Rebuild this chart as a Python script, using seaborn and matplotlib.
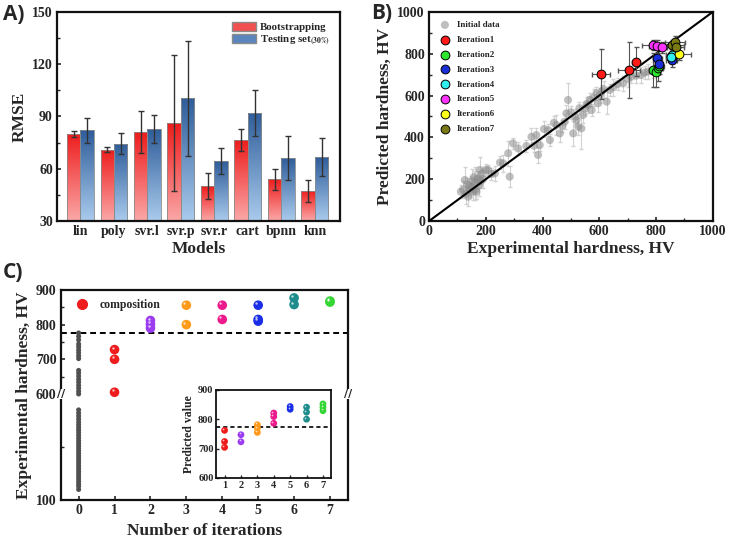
import numpy as np
import pandas as pd
import matplotlib
matplotlib.use('Agg')
import matplotlib.pyplot as plt
import seaborn as sns
from matplotlib.colors import LinearSegmentedColormap
from matplotlib.lines import Line2D
from matplotlib.patches import Patch
from matplotlib.ticker import AutoMinorLocator, FixedLocator
from matplotlib.transforms import offset_copy, blended_transform_factory

# ---------------- panel A data (RMSE of models)
models = ['lin', 'poly', 'svr.l', 'svr.p', 'svr.r', 'cart', 'bpnn', 'knn']
boot_rmse = [80, 71, 81, 86, 50, 76.5, 54, 47.3]
boot_err = [1.5, 1.3, 12, 39, 7.5, 6.5, 6, 6.3]
test_rmse = [82, 74.4, 82.8, 100.5, 64.2, 92, 66.3, 66.7]
test_err = [7, 6, 8, 33, 7.5, 13, 12.7, 11]

# ---------------- panel B data (predicted vs experimental)
init_exp = [112, 120, 126, 130, 135, 138, 142, 145, 149, 152, 155, 158, 161, 164, 167,
            170, 173, 176, 179, 182, 186, 190, 200, 208, 220, 232, 250, 261, 279, 284,
            296, 314, 343, 361, 370, 378, 384, 390, 405, 420, 426, 440, 449, 461, 470,
            478, 484, 490, 500, 508, 515, 520, 526, 530, 537, 543, 549, 555, 561, 567,
            573, 580, 590, 596, 602, 608, 615, 626, 637, 650, 665, 684, 700, 713, 730,
            748, 760, 771, 789]
init_pred = [140, 150, 196, 130, 175, 116, 165, 150, 164, 190, 140, 210, 180, 150, 140,
             200, 204, 170, 244, 190, 225, 200, 245, 244, 225, 228, 280, 276, 324, 212,
             371, 347, 359, 403, 360, 411, 316, 363, 440, 435, 387, 470, 459, 419, 455,
             475, 515, 579, 520, 419, 500, 483, 451, 540, 443, 507, 539, 560, 555, 580,
             531, 590, 611, 563, 600, 619, 630, 571, 627, 640, 655, 658, 680, 690, 695,
             698, 710, 714, 722]
init_err = [30, 40, 60, 50, 30, 45, 40, 35, 50, 60, 40, 30, 80, 45, 35,
            40, 30, 50, 60, 30, 25, 40, 30, 25, 30, 35, 30, 40, 60, 50,
            25, 30, 30, 40, 30, 35, 40, 30, 40, 30, 30, 30, 50, 40, 30,
            35, 40, 80, 30, 60, 35, 30, 40, 30, 100, 40, 30, 35, 40, 30,
            30, 40, 30, 40, 35, 30, 40, 60, 30, 40, 30, 35, 40, 30, 35,
            40, 30, 35, 40]
iter_names = ['Iteration1', 'Iteration2', 'Iteration3', 'Iteration4',
              'Iteration5', 'Iteration6', 'Iteration7']
iter_colors = ['#ff1a1a', '#2ee82e', '#1a2fd6', '#33f0f0', '#ff33ff', '#ffff1a', '#7a7a14']
iter_exp = [[605, 705, 730], [790, 800, 808, 812], [805, 810, 855], [855, 852],
            [790, 805, 820], [880], [858, 866, 870]]
iter_pred = [[702, 722, 762], [722, 715, 730, 742], [778, 750, 768], [795, 785],
             [842, 835, 830], [800], [842, 857, 832]]
iter_yerr = [[120, 135, 70], [80, 75, 60, 40], [40, 30, 30], [30, 25],
             [25, 30, 25], [30], [25, 30, 25]]
iter_xerr = [[32, 38, 15], [15, 15, 15, 15], [15, 15, 20], [20, 15],
             [40, 30, 30], [45], [40, 35, 30]]

# ---------------- panel C data (experimental hardness per iteration)
c_iter0 = [776, 766, 756, 744, 736, 727, 719, 710, 702, 668, 660, 651, 642, 634, 625,
           617, 608, 600, 525, 510, 496, 482, 468, 455, 442, 430, 418, 405, 392, 380,
           368, 356, 344, 332, 320, 308, 296, 284, 272, 260, 248, 236, 224, 212, 200,
           188, 176, 165, 150]
c_hard = {1: [728, 700, 605], 2: [812, 801, 790], 3: [856, 800], 4: [856, 815],
          5: [856, 815, 810], 6: [877, 858], 7: [868, 865]}
c_pred = {1: [762, 724, 704], 2: [747, 723], 3: [781, 770, 755], 4: [821, 809, 786],
          5: [843, 834], 6: [841, 824, 800], 7: [852, 841, 829]}
c_colors = ['#ee1c1c', '#9b3cf0', '#ff9a1a', '#ec1a8c', '#1a2ee8', '#1f8c8c', '#33d633']
threshold = 775

sns.set_style('ticks')
plt.rcParams['font.family'] = ['Liberation Serif', 'DejaVu Serif']
plt.rcParams['font.weight'] = 'bold'
plt.rcParams['axes.labelweight'] = 'bold'
plt.rcParams['axes.linewidth'] = 1.6
plt.rcParams['axes.edgecolor'] = '#111111'
plt.rcParams['xtick.direction'] = 'in'
plt.rcParams['ytick.direction'] = 'in'
plt.rcParams['mathtext.fontset'] = 'stix'

fig = plt.figure(figsize=(7.31, 5.43), dpi=100)
ax_a = fig.add_axes([0.078, 0.593, 0.387, 0.385])
ax_b = fig.add_axes([0.587, 0.593, 0.388, 0.385])
ax_c = fig.add_axes([0.083, 0.079, 0.393, 0.387])

tick_fs = 10
lab_fs = 12.5

# ================= A) bar chart
df_a = pd.DataFrame({'model': models * 2,
                     'rmse': boot_rmse + test_rmse,
                     'set': ['Bootstrapping'] * 8 + ['Testing set'] * 8})
sns.barplot(data=df_a, x='model', y='rmse', hue='set', palette=['#ee2020', '#3f6fa8'],
            width=0.8, errorbar=None, edgecolor='#8a8a8a', linewidth=0.6,
            legend=False, ax=ax_a)
ax_a.set_ylim(30, 150)
ax_a.set_xlim(-0.7, 7.75)
cmaps = [LinearSegmentedColormap.from_list('r', ['#fba8a8', '#ee1c1c']),
         LinearSegmentedColormap.from_list('b', ['#aacbed', '#2e5d9a'])]
grad = np.linspace(0, 1, 256).reshape(-1, 1)
for cont, cmap, errs in zip(ax_a.containers, cmaps, [boot_err, test_err]):
    for bar, e in zip(cont, errs):
        x0, w, h = bar.get_x(), bar.get_width(), bar.get_height()
        im = ax_a.imshow(grad, extent=[x0, x0 + w, 30, h], origin='lower',
                         aspect='auto', cmap=cmap, zorder=1.5)
        im.set_clip_path(bar)
        bar.set_facecolor('none')
        bar.set_zorder(2)
        ax_a.errorbar(x0 + w / 2, h, yerr=e, color='#333333', capsize=2.2,
                      elinewidth=1, capthick=1, zorder=3)
ax_a.set_ylim(30, 150)
ax_a.set_xlim(-0.7, 7.75)
ax_a.set_yticks([30, 60, 90, 120, 150])
ax_a.yaxis.set_minor_locator(AutoMinorLocator(2))
ax_a.tick_params(labelsize=tick_fs, width=1.2, length=3, pad=3)
ax_a.tick_params(which='minor', width=1, length=2)
ax_a.set_xlabel('Models', fontsize=lab_fs, labelpad=2)
ax_a.set_ylabel('RMSE', fontsize=lab_fs, labelpad=3)
leg_a = [Patch(facecolor='#f05050', edgecolor='#8a8a8a', label='Bootstrapping'),
         Patch(facecolor='#5a86bd', edgecolor='#8a8a8a', label=r'Testing set$_{\mathbf{(30\%)}}$')]
ax_a.legend(handles=leg_a, loc='upper right', frameon=False, fontsize=7.8,
            handlelength=2.2, handleheight=1.0, handletextpad=0.4, labelspacing=0.1,
            borderaxespad=0.5)
for s in ax_a.spines.values():
    s.set_visible(True)

# ================= B) parity plot
ax_b.errorbar(init_exp, init_pred, yerr=init_err, fmt='none', ecolor='#d2d2d2',
              elinewidth=0.8, capsize=1.5, zorder=1)
sns.scatterplot(x=init_exp, y=init_pred, color='#8c8c8c', alpha=0.55, s=34,
                edgecolor='none', label='Initial data', ax=ax_b, zorder=2)
ax_b.axline((0, 0), slope=1, color='black', lw=1.5, zorder=3)
for name, col, xs, ys, xe, ye in zip(iter_names, iter_colors, iter_exp, iter_pred,
                                     iter_xerr, iter_yerr):
    ax_b.errorbar(xs, ys, xerr=xe, yerr=ye, fmt='none', ecolor='#555555',
                  elinewidth=0.8, capsize=1.8, zorder=4)
    sns.scatterplot(x=xs, y=ys, color=col, s=40, edgecolor='black', linewidth=0.7,
                    label=name, ax=ax_b, zorder=5)
ax_b.set_xlim(0, 1000)
ax_b.set_ylim(0, 1000)
ax_b.set_xticks(range(0, 1001, 200))
ax_b.set_yticks(range(0, 1001, 200))
ax_b.xaxis.set_minor_locator(AutoMinorLocator(2))
ax_b.yaxis.set_minor_locator(AutoMinorLocator(2))
ax_b.tick_params(labelsize=tick_fs, width=1.2, length=3, pad=3)
ax_b.tick_params(which='minor', width=1, length=2)
ax_b.set_xlabel('Experimental hardness, HV', fontsize=lab_fs, labelpad=2)
ax_b.set_ylabel('Predicted hardness, HV', fontsize=lab_fs, labelpad=3)
ax_b.legend(loc='upper left', frameon=False, fontsize=6.5, labelspacing=0.72,
            handletextpad=0.6, borderaxespad=0.5, borderpad=0.5, handlelength=1.5,
            markerscale=1.0)
for s in ax_b.spines.values():
    s.set_visible(True)


# ================= C) broken-axis iterations plot
def fwd(y):
    y = np.asarray(y, float)
    return np.where(y <= 600, (y - 100) / 500 * 0.505, 0.505 + (y - 600) / 300 * 0.495)


def inv(v):
    v = np.asarray(v, float)
    return np.where(v <= 0.505, 100 + v / 0.505 * 500, 600 + (v - 0.505) / 0.495 * 300)


ax_c.set_yscale('function', functions=(fwd, inv))
hl = offset_copy(ax_c.transData, fig=fig, x=-1.4, y=1.4, units='points')
sns.scatterplot(x=[0] * len(c_iter0), y=c_iter0, color='#505050', s=13,
                edgecolor='none', ax=ax_c, zorder=3)
df_c = pd.DataFrame([(k, v) for k, vals in c_hard.items() for v in vals],
                    columns=['iteration', 'hardness'])
sns.scatterplot(data=df_c, x='iteration', y='hardness', hue='iteration',
                palette=dict(zip(range(1, 8), c_colors)), s=48, edgecolor='none',
                legend=False, ax=ax_c, zorder=3)
ax_c.scatter(df_c['iteration'], df_c['hardness'], s=3, color='white', alpha=0.7,
             transform=hl, zorder=4, linewidths=0)
ax_c.axhline(threshold, color='black', ls='--', lw=1.4, dashes=(3, 2), zorder=2)
ax_c.set_xlim(-0.5, 7.5)
ax_c.set_ylim(100, 900)
ax_c.set_xticks(range(0, 8))
ax_c.yaxis.set_major_locator(FixedLocator([100, 600, 700, 800, 900]))
ax_c.yaxis.set_minor_locator(FixedLocator([350, 650, 750, 850]))
ax_c.tick_params(labelsize=tick_fs, width=1.2, length=3, pad=3)
ax_c.tick_params(which='minor', width=1, length=2)
ax_c.set_xlabel('Number of iterations', fontsize=lab_fs, labelpad=4)
ax_c.set_ylabel('Experimental hardness, HV', fontsize=lab_fs, labelpad=3)
bt = blended_transform_factory(ax_c.transAxes, ax_c.transData)
for xb in (0, 1):
    ax_c.text(xb, 600, '//', transform=bt, ha='center', va='center', fontsize=8,
              family='DejaVu Sans', bbox=dict(fc='white', ec='none', pad=0.3), zorder=6)
comp = Line2D([], [], marker='o', ls='none', color='#ee1c1c', markersize=7)
ax_c.legend(handles=[comp], labels=['composition'], loc='upper left', frameon=False,
            fontsize=8.5, handletextpad=0.5, borderaxespad=0.4)
for s in ax_c.spines.values():
    s.set_visible(True)

# inset with predicted values
ax_in = fig.add_axes([0.296, 0.120, 0.157, 0.162])
df_in = pd.DataFrame([(k, v) for k, vals in c_pred.items() for v in vals],
                     columns=['iteration', 'pred'])
sns.scatterplot(data=df_in, x='iteration', y='pred', hue='iteration',
                palette=dict(zip(range(1, 8), c_colors)), s=24, edgecolor='none',
                legend=False, ax=ax_in, zorder=3)
ax_in.scatter(df_in['iteration'], df_in['pred'], s=1.5, color='white', alpha=0.7,
              transform=offset_copy(ax_in.transData, fig=fig, x=-1.0, y=1.0, units='points'),
              zorder=4, linewidths=0)
ax_in.axhline(threshold, color='black', ls='--', lw=1.2, dashes=(2.5, 1.8), zorder=2)
ax_in.set_xlim(0.5, 7.5)
ax_in.set_ylim(600, 900)
ax_in.set_xticks(range(1, 8))
ax_in.set_yticks([600, 700, 800, 900])
ax_in.tick_params(labelsize=7.5, width=1, length=2, pad=2)
ax_in.set_xlabel('')
ax_in.set_ylabel('Predicted value', fontsize=8.5, labelpad=2)
for s in ax_in.spines.values():
    s.set_visible(True)
    s.set_linewidth(1.3)

# panel letters
for lx, ly, t in [(0.004, 0.993, 'A)'), (0.508, 0.995, 'B)'), (0.004, 0.518, 'C)')]:
    fig.text(lx, ly, t, fontsize=15, fontweight='bold', family=['Open Sans', 'DejaVu Sans'],
             va='top', ha='left')

fig.savefig('out.png', dpi=100)
